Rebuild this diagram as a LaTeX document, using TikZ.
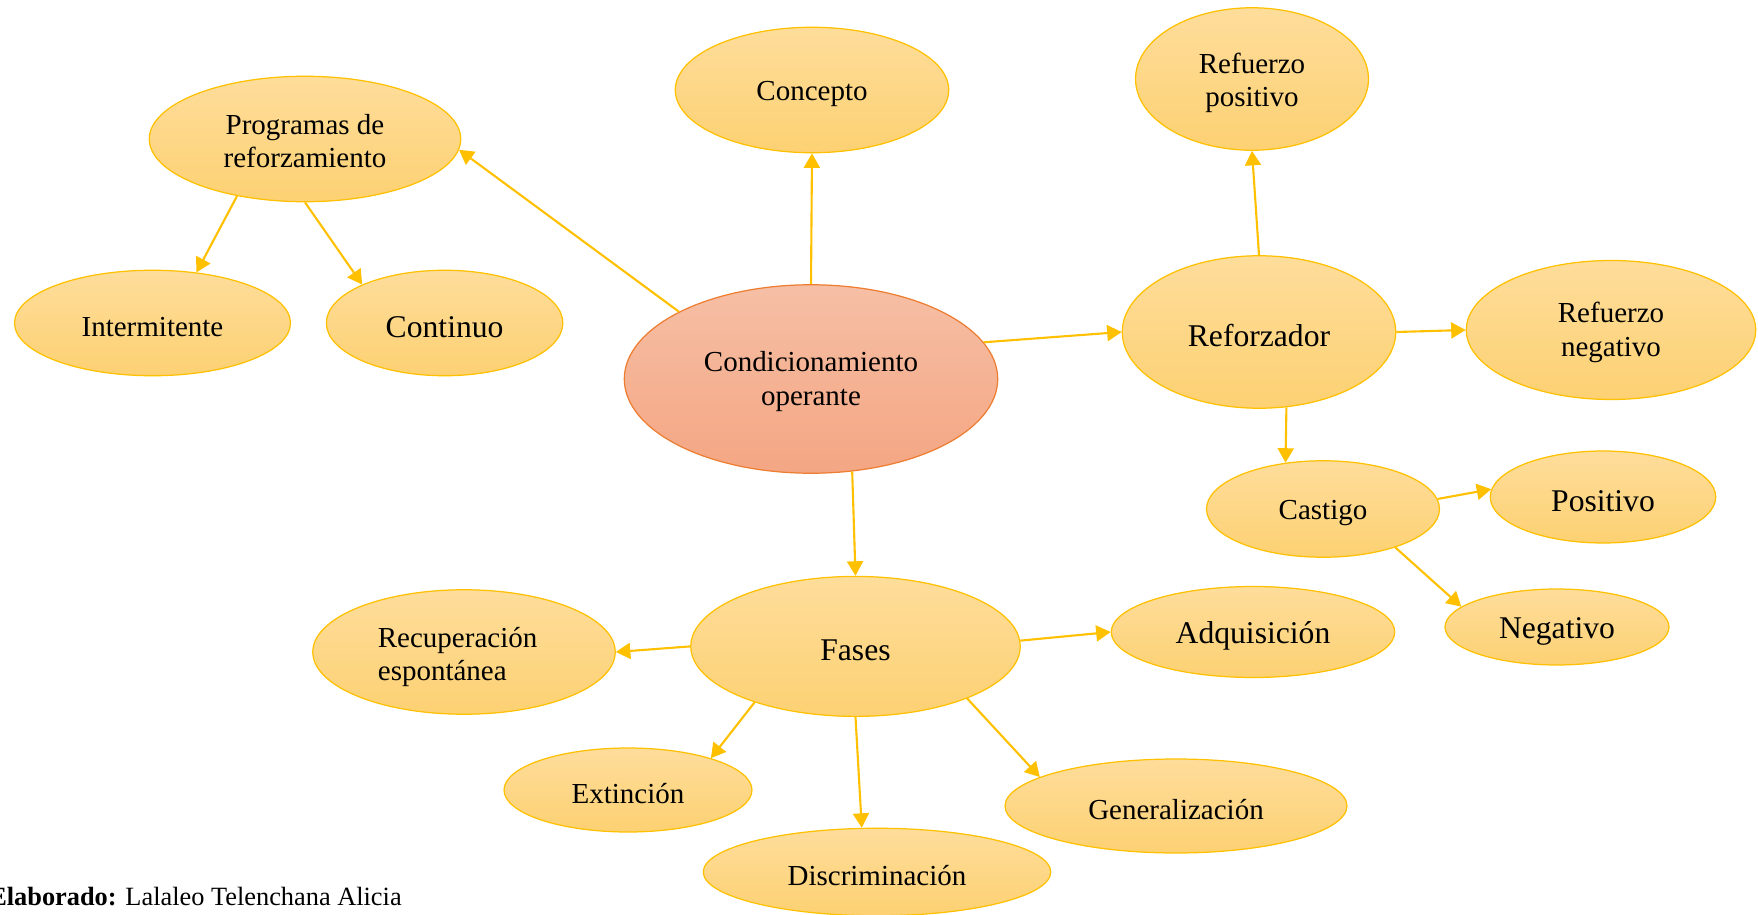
\documentclass[tikz,border=0pt]{standalone}
\usepackage{fontspec}
\setmainfont{Liberation Serif}
\usepackage{tikz}
\usetikzlibrary{shapes, arrows.meta, positioning}
\definecolor{gold}{HTML}{FFC000}
\definecolor{goldtop}{HTML}{FEDD9B}
\definecolor{goldbot}{HTML}{FDD173}
\definecolor{salmonline}{HTML}{ED7D31}
\definecolor{salmontop}{HTML}{F6BFA5}
\definecolor{salmonbot}{HTML}{F4A683}
\newcommand{\lift}[1]{\rule{0pt}{#1pt}}

\begin{document}
\begin{tikzpicture}
  [
    x=0.02cm, y=-0.02cm,
    Yellow/.style={ellipse, draw=gold, top color=goldtop, bottom color=goldbot, line width=0.7pt, inner sep=0pt, align=center,
      font=\fontsize{16.5}{19}\selectfont, execute at begin node={\lift{15.5}}},
    Big/.style={font=\fontsize{18}{21}\selectfont, execute at begin node={\lift{16.5}}},
    Salmon/.style={Yellow, draw=salmonline, top color=salmontop, bottom color=salmonbot},
    Link/.style={-{Triangle[length=0.29cm, width=0.32cm]}, draw=gold, line width=1.2pt}
  ]
  \useasboundingbox (0,0) rectangle (1758,915);
  % Nodes
  \node[Salmon, minimum width=7.47cm, minimum height=3.77cm] (cen) at (811,379) {\lift{14.5}Condicionamiento\\operante};
  \node[Yellow, minimum width=6.23cm, minimum height=2.51cm] (prog) at (305,139) {\lift{13.5}Programas de\\reforzamiento};
  \node[Yellow, minimum width=5.47cm, minimum height=2.51cm] (conc) at (812,90) {Concepto};
  \node[Yellow, minimum width=4.66cm, minimum height=2.85cm] (rpos) at (1252,79) {\lift{16}Refuerzo\\positivo};
  \node[Yellow, minimum width=5.52cm, minimum height=2.11cm] (inter) at (152.5,323) {Intermitente};
  \node[Yellow, Big, minimum width=4.73cm, minimum height=2.11cm] (cont) at (444.6,323) {Continuo};
  \node[Yellow, Big, minimum width=5.47cm, minimum height=3.05cm] (refz) at (1259,332) {Reforzador};
  \node[Yellow, minimum width=5.79cm, minimum height=2.78cm] (rneg) at (1611,330) {\lift{14.5}Refuerzo\\negativo};
  \node[Yellow, minimum width=4.66cm, minimum height=1.93cm] (cast) at (1323,509) {Castigo};
  \node[Yellow, Big, minimum width=4.51cm, minimum height=1.84cm] (posi) at (1603,497) {Positivo};
  \node[Yellow, Big, minimum width=4.48cm, minimum height=1.52cm] (nega) at (1557,627) {Negativo};
  \node[Yellow, Big, minimum width=6.59cm, minimum height=2.80cm] (fases) at (855.5,646.4) {Fases};
  \node[Yellow, align=left, text width=98pt, minimum width=6.05cm, minimum height=2.49cm] (recu) at (464,652) {\lift{17}Recuperación\\espontánea};
  \node[Yellow, Big, minimum width=5.67cm, minimum height=1.82cm] (adq) at (1253,632) {Adquisición};
  \node[Yellow, minimum width=4.96cm, minimum height=1.68cm] (ext) at (628,790) {Extinción};
  \node[Yellow, minimum width=6.84cm, minimum height=1.88cm] (gen) at (1176,806) {Generalización};
  \node[Yellow, minimum width=6.95cm, minimum height=1.75cm] (disc) at (877,872) {Discriminación};
  \node[anchor=base east, inner sep=0pt, font=\fontsize{15}{18}\selectfont] (elab) at (402,905) {\textbf{Elaborado:} Lalaleo Telenchana Alicia};
  % Lines
  \path [Link] (cen.153) -- (prog.-4);
  \path [Link] (cen.90) -- (conc.-90);
  \path [Link] (cen.12) -- (refz.180);
  \path [Link] (cen.-66) -- (fases.90);
  \path [Link] (prog.-140) -- (inter.49);
  \path [Link] (prog.-90) -- (cont.155);
  \path [Link] (refz.90) -- (rpos.-90);
  \path [Link] (refz.0) -- (rneg.180);
  \path [Link] (refz.-70) -- (cast.129);
  \path [Link] (cast.5) -- (posi.176);
  \path [Link] (cast.-28) -- (nega.168);
  \path [Link] (fases.180) -- (recu.0);
  \path [Link] (fases.2.4) -- (adq.180);
  \path [Link] (fases.-151) -- (ext.21);
  \path [Link] (fases.-90) -- (disc.109);
  \path [Link] (fases.-25) -- (gen.168);
\end{tikzpicture}
\end{document}
